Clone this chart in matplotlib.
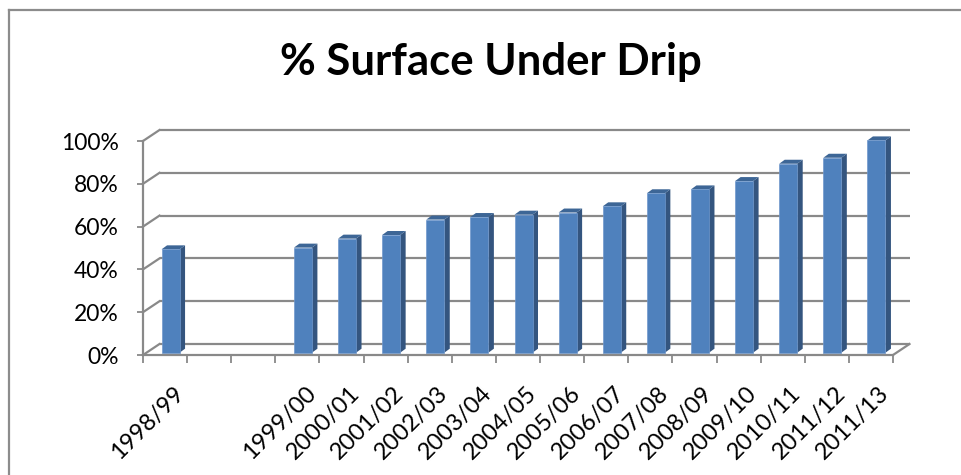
import matplotlib
matplotlib.use("Agg")
import matplotlib.pyplot as plt
from matplotlib.patches import Polygon
from matplotlib.lines import Line2D

# ---- data ---------------------------------------------------------------
seasons = ["1998/99", "", "", "1999/00", "2000/01", "2001/02", "2002/03",
           "2003/04", "2004/05", "2005/06", "2006/07", "2007/08", "2008/09",
           "2009/10", "2010/11", "2011/12", "2011/13"]
surface_pct = [48.3, None, None, 49.1, 53.3, 55.0, 62.2, 63.4, 64.5, 65.5,
               68.4, 74.5, 76.3, 80.2, 88.3, 91.1, 99.2]
y_ticks = [0, 20, 40, 60, 80, 100]
y_labels = ["0%", "20%", "40%", "60%", "80%", "100%"]
title = "% Surface Under Drip"

# ---- styling ------------------------------------------------------------
FONT = "Lato"
GRID = "#898989"
FRONT = "#4F81BD"
SIDE = "#34557F"
TOP = "#3D6696"

W, H, DPI = 961, 475, 100
fig = plt.figure(figsize=(W / DPI, H / DPI), dpi=DPI)
fig.patch.set_facecolor("white")

# outer chart border (top and left edges)
fig.add_artist(Line2D([8.5 / W, 1.0], [1 - 9.5 / H] * 2, color="#8c8c8c", lw=1.6))
fig.add_artist(Line2D([8.5 / W] * 2, [0.0, 1 - 9.5 / H], color="#8c8c8c", lw=1.6))

fig.text(491 / W, 1 - 75 / H, title, ha="center", va="baseline",
         fontsize=31.5, fontweight="bold", family=FONT)

# front plane of the 3-D box
ax = fig.add_axes([143 / W, 120 / H, 750 / W, 214 / H])
n = len(seasons)
ax.set_xlim(-0.5, n - 0.5)
ax.set_ylim(0, 100)
ax.patch.set_alpha(0)

px_per_cat = 750 / n
px_per_pct = 214 / 100
# depth of the floor / side wall, in data units
DX = 16.5 / px_per_cat
DY = 11 / px_per_pct
# bar geometry
BAR_W = 18 / px_per_cat
BAR_SHIFT = 5.5 / px_per_cat
BASE = 2.3 / px_per_pct
SDX = 5.5 / px_per_cat
SDY = 4 / px_per_pct

lw_grid = 1.6
x_left, x_right = -0.5, n - 0.5
for v in y_ticks:
    # back wall gridline
    ax.plot([x_left + DX, x_right + DX], [v + DY, v + DY], color=GRID,
            lw=lw_grid, clip_on=False, zorder=1, solid_capstyle="butt")
    # side wall gridline
    ax.plot([x_left, x_left + DX], [v, v + DY], color=GRID,
            lw=lw_grid, clip_on=False, zorder=1)
# right edge of the floor
ax.plot([x_right, x_right + DX], [0, DY], color=GRID, lw=lw_grid,
        clip_on=False, zorder=1)

# bars: side face, top face, front face
for i, v in enumerate(surface_pct):
    if v is None:
        continue
    cx = i + BAR_SHIFT
    x0, x1 = cx - BAR_W / 2, cx + BAR_W / 2
    top = BASE + v
    ax.add_patch(Polygon([(x1, BASE), (x1, top), (x1 + SDX, top + SDY),
                          (x1 + SDX, BASE + SDY)], closed=True,
                         facecolor=SIDE, edgecolor="none", zorder=3,
                         clip_on=False))
    ax.add_patch(Polygon([(x0, top), (x1, top), (x1 + SDX, top + SDY),
                          (x0 + SDX, top + SDY)], closed=True,
                         facecolor=TOP, edgecolor="none", zorder=3,
                         clip_on=False))

xs = [i + BAR_SHIFT for i, v in enumerate(surface_pct) if v is not None]
hs = [v for v in surface_pct if v is not None]
ax.bar(xs, hs, bottom=BASE, width=BAR_W, color=FRONT, edgecolor="#7098CC",
       linewidth=0.5, zorder=4, clip_on=False)

# axes lines
for s in ("top", "right"):
    ax.spines[s].set_visible(False)
for s in ("left", "bottom"):
    ax.spines[s].set_color(GRID)
    ax.spines[s].set_linewidth(lw_grid)
    ax.spines[s].set_zorder(5)

ax.set_yticks(y_ticks)
ax.set_yticklabels(y_labels, family=FONT, fontsize=16.5)
ax.tick_params(axis="y", length=4.5, width=1.3, color=GRID, pad=13)

# category boundaries carry tick marks, the labels sit near bar centres
ax.set_xticks([i - 0.5 for i in range(n + 1)])
ax.set_xticklabels([])
ax.tick_params(axis="x", which="major", length=6, width=1.3, color=GRID,
               direction="out")
ax.set_xticks([i + 0.17 for i in range(n)], minor=True)
ax.set_xticklabels(seasons, minor=True, rotation=45, ha="right",
                   rotation_mode="anchor", family=FONT, fontsize=17)
ax.tick_params(axis="x", which="minor", length=0, pad=20)

fig.savefig("out.png", dpi=DPI, facecolor="white")
